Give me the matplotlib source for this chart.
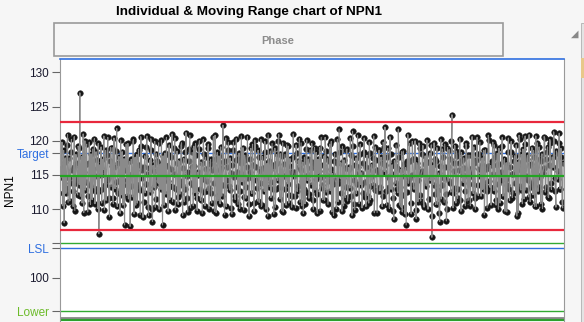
import numpy as np
import matplotlib.pyplot as plt
from matplotlib.patches import Rectangle

plt.rcParams['font.family'] = ['Liberation Sans', 'DejaVu Sans']

# individual measurements of NPN1 read off the chart; the run is stored as two
# halves (even and odd samples) that are interleaved below
npn1_even = [
    116.2, 119.8, 112.4, 108.0, 117.5, 113.1, 120.9, 114.6, 111.2, 118.3, 115.7, 110.4, 120.6, 113.9, 116.8,
    112.1, 118.9, 127.0, 114.3, 110.9, 121.0, 115.4, 112.8, 119.5, 109.6, 116.7, 113.5, 118.1, 111.4, 115.9,
    120.3, 112.6, 117.2, 110.1, 106.4, 116.5, 119.1, 113.0, 115.8, 109.9, 118.6, 114.2, 120.5, 111.7, 117.0,
    113.3, 119.0, 110.8, 116.1, 114.0, 121.8, 112.3, 117.7, 109.4, 115.1, 118.4, 113.6, 107.7, 116.9, 112.0,
    119.6, 114.9, 107.5, 117.3, 111.8, 120.2, 115.3, 110.6, 118.0, 113.2, 116.4, 109.2, 119.3, 114.5, 111.0,
    117.8, 113.7, 120.7, 110.3, 116.0, 112.5, 118.7, 108.2, 115.6, 119.9, 111.5, 117.1, 113.8, 110.0, 116.6,
    120.1, 107.7, 114.8, 118.2, 112.2, 116.3, 109.7, 119.4, 113.4, 117.6, 111.1, 115.2, 120.4, 112.9, 118.5,
    110.7, 116.9, 114.1, 119.7, 109.1, 117.4, 113.0, 121.2, 111.6, 115.5, 118.8, 110.2, 116.2, 113.6, 119.2,
    112.4, 117.9, 109.8, 115.0, 120.0, 111.3, 116.7, 114.4, 118.1, 110.5, 115.9, 112.7, 119.5, 113.1, 117.3,
    110.9, 116.4, 113.9, 120.8, 109.5, 118.3, 112.1, 115.7, 119.1, 111.9, 122.3, 113.5, 117.0, 110.4, 116.1,
    119.8, 112.8, 115.3, 109.3, 118.6, 114.7, 111.4, 120.3, 113.2, 117.5, 110.1, 116.8, 114.0, 119.0, 111.8,
    117.2, 113.3, 120.6, 110.8, 115.4, 118.9, 112.3, 116.5, 109.7, 119.3, 114.3, 111.2, 117.7, 113.8, 120.2,
    110.6, 116.0, 112.6, 118.4, 114.6, 109.0, 117.1, 115.8, 111.7, 119.6, 113.0, 116.3, 110.3, 118.0, 114.2,
    120.9, 111.5, 115.1, 117.8, 109.6, 116.6, 112.9, 119.4, 113.7, 110.9, 117.4, 115.5, 112.0, 121.0, 114.8,
    110.2, 118.2, 113.4, 116.2, 111.0, 119.7, 114.1, 109.4, 117.6, 112.5, 120.1, 115.0, 111.6, 118.7, 113.6,
    116.9, 110.0, 119.0, 114.4, 112.2, 117.3, 115.6, 109.8, 120.5, 113.1, 116.4, 111.3, 118.5, 114.9, 110.7,
    117.0, 112.7, 119.9, 115.2, 109.1, 118.1, 113.9, 116.7, 111.1, 121.7, 114.5, 112.4, 119.2, 110.5, 116.0,
    113.2, 118.8, 111.8, 115.9, 120.4, 112.0, 121.4, 114.2, 109.9, 117.5, 113.7, 116.1, 110.8, 119.5, 115.3,
    112.3, 118.3, 114.0, 110.4, 117.9, 115.7, 119.8, 111.4, 116.5, 113.5, 120.7, 112.8, 117.2, 109.5, 115.4,
    118.6, 113.3, 116.8, 111.9, 119.1, 122.0, 112.6, 117.7, 114.7, 110.1, 118.0, 115.1, 111.7, 108.5, 116.3,
    119.4, 113.0, 121.7, 110.6, 115.8, 118.4, 112.1, 116.6, 109.3, 107.7, 117.1, 113.8, 119.6, 110.9, 115.0,
    117.4, 112.9, 120.0, 108.6, 116.2, 114.3, 118.9, 111.2, 115.6, 119.3, 110.3, 117.8, 113.4, 116.9, 111.5,
    118.2, 114.6, 105.9, 116.4, 119.7, 112.2, 117.0, 110.7, 115.3, 108.2, 120.2, 113.6, 117.6, 111.0, 116.1,
    108.3, 119.0, 114.1, 117.3, 112.5, 123.8, 110.2, 116.8, 113.1, 118.5, 111.6, 115.7, 120.3, 109.7, 117.2,
    113.9, 116.0, 110.5, 119.2, 114.8, 111.3, 117.9, 115.4, 120.6, 112.3, 116.7, 110.0, 118.1, 113.5, 115.9,
    119.8, 111.9, 117.5, 114.0, 109.2, 118.7, 112.7, 116.3, 120.1, 113.2, 110.6, 117.0, 115.2, 119.4, 111.4,
    116.5, 113.7, 118.9, 110.9, 115.5, 120.5, 112.0, 117.4, 114.4, 109.6, 118.3, 113.0, 116.2, 119.9, 111.7,
    115.1, 117.8, 112.4, 109.0, 116.9, 120.8, 113.4, 118.0, 110.8, 115.8, 119.5, 112.8, 117.3, 114.2, 120.9,
    111.1, 116.6, 113.8, 118.6, 110.4, 120.7, 115.0, 112.6, 119.1, 114.7, 117.1, 110.1, 116.0, 120.4, 113.3,
    118.4, 111.8, 116.4, 119.7, 112.9, 117.6, 121.3, 114.5, 110.3, 118.2, 115.6, 121.1, 113.0, 117.7, 110.2,
]
npn1_odd = [
    114.7, 110.5, 118.6, 116.9, 112.3, 119.4, 111.0, 117.5, 113.8, 120.2, 112.6, 116.1, 109.8, 118.0, 114.4,
    119.2, 113.6, 111.9, 117.7, 115.3, 109.5, 120.0, 114.0, 116.6, 112.0, 119.8, 110.7, 115.5, 118.8, 113.1,
    110.8, 118.4, 114.9, 119.6, 112.7, 115.0, 110.9, 117.3, 120.7, 113.5, 111.3, 117.9, 114.6, 108.9, 119.0,
    116.3, 111.6, 120.4, 113.0, 118.5, 110.4, 116.8, 114.2, 120.1, 112.1, 110.6, 117.4, 115.8, 119.5, 114.3,
    111.5, 117.0, 113.4, 115.1, 119.9, 109.3, 117.6, 113.7, 110.9, 118.7, 112.8, 120.6, 115.7, 108.8, 116.2,
    112.4, 119.1, 115.2, 109.1, 117.2, 120.3, 110.0, 116.4, 113.2, 110.3, 118.1, 114.5, 119.7, 115.6, 112.9,
    113.9, 117.8, 110.6, 116.5, 120.5, 114.1, 117.9, 111.4, 115.9, 121.0, 113.3, 118.9, 109.9, 116.7, 111.8,
    117.1, 112.2, 119.3, 113.5, 116.0, 111.1, 118.4, 114.8, 109.6, 117.0, 120.8, 113.9, 118.3, 110.5, 116.3,
    119.6, 111.7, 115.4, 118.8, 113.0, 116.9, 109.4, 120.2, 112.5, 117.6, 114.1, 119.0, 110.1, 116.6, 112.3,
    115.8, 120.6, 109.7, 117.3, 114.6, 111.2, 117.8, 110.8, 116.0, 113.6, 116.9, 109.2, 120.4, 114.3, 118.7,
    113.4, 117.5, 110.2, 116.4, 119.8, 112.0, 117.2, 115.5, 110.7, 118.2, 112.7, 120.7, 115.1, 109.9, 117.9,
    111.6, 116.2, 114.5, 109.0, 117.4, 112.4, 119.5, 110.9, 120.1, 116.1, 113.1, 118.6, 111.0, 115.6, 110.4,
    117.7, 113.8, 119.9, 110.0, 116.7, 120.9, 113.3, 118.5, 114.0, 116.5, 109.3, 118.9, 112.9, 116.8, 120.0,
    113.2, 118.1, 109.8, 119.7, 114.9, 118.0, 110.6, 115.0, 119.2, 112.1, 116.3, 110.3, 117.6, 115.4, 111.9,
    119.4, 112.6, 117.1, 120.3, 115.7, 110.5, 116.9, 113.0, 110.8, 118.8, 114.2, 117.3, 112.2, 116.0, 119.6,
    111.3, 116.6, 112.8, 118.3, 109.4, 115.2, 119.0, 114.7, 113.5, 111.4, 117.8, 120.5, 112.5, 117.4, 114.1,
    119.5, 115.9, 109.6, 113.7, 117.0, 114.3, 110.1, 120.2, 113.9, 118.4, 116.8, 109.7, 114.6, 117.2, 111.7,
    118.7, 111.2, 116.1, 113.1, 117.9, 109.1, 119.3, 110.7, 116.4, 112.3, 120.8, 115.3, 118.0, 113.6, 110.2,
    116.7, 120.4, 111.8, 116.2, 112.0, 110.9, 118.2, 113.4, 114.8, 117.5, 109.5, 119.1, 115.8, 112.6, 118.6,
    112.7, 117.6, 110.4, 119.8, 115.5, 116.4, 110.6, 118.9, 113.2, 120.6, 112.9, 116.5, 109.8, 117.1, 113.8,
    116.0, 112.4, 117.7, 113.3, 110.3, 109.6, 118.5, 114.9, 116.1, 112.5, 120.9, 114.4, 117.0, 109.3, 119.9,
    113.5, 117.3, 109.9, 116.8, 111.1, 119.7, 112.1, 115.1, 118.1, 110.8, 116.6, 114.0, 120.1, 110.0, 116.9,
    114.2, 119.4, 109.0, 113.6, 117.4, 110.7, 119.0, 112.8, 109.4, 116.3, 111.5, 118.8, 114.5, 119.5, 112.2,
    110.1, 116.2, 118.7, 113.9, 120.0, 112.3, 115.6, 119.3, 110.9, 117.8, 113.0, 116.7, 111.4, 118.3, 115.0,
    117.5, 112.6, 119.6, 111.2, 117.9, 114.7, 110.5, 116.0, 113.7, 119.1, 111.6, 117.2, 120.5, 112.0, 118.0,
    114.8, 116.5, 112.9, 118.6, 113.4, 115.9, 110.2, 120.8, 114.1, 116.4, 113.1, 119.8, 112.7, 117.6, 110.6,
    118.2, 110.0, 116.6, 114.3, 119.2, 111.9, 117.1, 109.7, 116.8, 113.5, 120.4, 111.3, 118.4, 115.2, 112.4,
    117.0, 113.8, 119.4, 115.7, 109.5, 120.3, 112.8, 116.2, 118.8, 111.5, 120.7, 114.9, 117.9, 111.8, 116.5,
    113.2, 119.0, 112.1, 117.7, 114.6, 110.4, 119.7, 113.3, 117.4, 110.8, 118.1, 115.3, 120.6, 112.5, 117.3,
    119.1, 111.7, 120.2, 113.9, 117.6, 116.1, 120.0, 112.6, 118.5, 114.4, 119.6, 113.0, 118.9, 111.0, 116.8,
]
npn1 = [v for pair in zip(npn1_even, npn1_odd) for v in pair]

# control limits and spec/reference lines
ucl, center, lcl = 122.8, 114.9, 107.0
target, lsl, lower = 118.2, 104.3, 95.1

ytick_vals = [130, 125, 120, target, 115, 110, 105, lsl, 100, lower]
ytick_labels = ['130', '125', '120', 'Target', '115', '110', '', 'LSL', '100', 'Lower']

W, H = 584, 322
fig = plt.figure(figsize=(W / 100, H / 100), dpi=100, facecolor='#f6f6f6')

# plot area in pixel terms
left, right, top, bottom = 60, 564, 59, 322
ax = fig.add_axes([left / W, 1 - bottom / H, (right - left) / W, (bottom - top) / H])
ax.set_facecolor('white')

x = np.arange(len(npn1))
ax.set_xlim(-1.5, len(npn1) + 0.5)
ax.set_ylim(93.53, 131.94)

# reference lines behind the data
ax.axhline(target, color='#2f6fe0', lw=1.0, zorder=1)
ax.axhline(105.0, color='#33aa33', lw=1.0, zorder=1)
ax.axhline(lsl, color='#2f6fe0', lw=1.0, zorder=1)
ax.axhline(lower, color='#33aa33', lw=1.0, zorder=1)
ax.axhline(94.1, color='#888888', lw=2.0, zorder=1)
ax.axhline(93.75, color='#2ca02c', lw=1.5, zorder=1)

ax.plot(x, npn1, ls='none', marker='o', ms=4.0, mfc='#151515', mec='#2a2a2a', mew=0.4, zorder=2)
ax.plot(x, npn1, color='#8a8a8a', lw=0.8, zorder=3)

# control limits on top
ax.axhline(ucl, color='#e8283c', lw=1.6, zorder=4)
ax.axhline(lcl, color='#e8283c', lw=1.6, zorder=4)
ax.axhline(center, color='#22a522', lw=1.6, zorder=4)

ax.set_xticks([])
ax.set_yticks(ytick_vals)
ax.set_yticklabels(ytick_labels, fontsize=8.5)
ax.tick_params(axis='y', length=6, width=0.8, color='#666666', pad=2)
label_colors = ['#1a1a2e'] * len(ytick_vals)
label_colors[3] = '#2f6fe0'
label_colors[7] = '#2f6fe0'
label_colors[9] = '#6cbb2a'
tick_colors = ['#666666'] * len(ytick_vals)
tick_colors[3] = '#2f6fe0'
tick_colors[6] = '#33aa33'
tick_colors[7] = '#2f6fe0'
tick_colors[9] = '#33aa33'
for t, lc, tc in zip(ax.yaxis.get_major_ticks(), label_colors, tick_colors):
    t.label1.set_color(lc)
    t.tick1line.set_color(tc)

for s in ['left', 'right', 'bottom']:
    ax.spines[s].set_color('#999999')
ax.spines['top'].set_color('#2f6fe0')
ax.spines['top'].set_linewidth(1.2)

ax.set_ylabel('NPN1', fontsize=8.5)
ax.yaxis.set_label_coords(-44 / (right - left), 0.5)

# title and phase header
fig.text(249 / W, 1 - 12 / H, 'Individual & Moving Range chart of NPN1',
         ha='center', va='center', fontsize=9.7, fontweight='bold')
fig.patches.append(Rectangle((54 / W, 1 - 56 / H), (503 - 54) / W, 33 / H,
                             transform=fig.transFigure, facecolor='#f6f6f6',
                             edgecolor='#9a9a9a', lw=1.2))
fig.text(278 / W, 1 - 41 / H, 'Phase', ha='center', va='center',
         fontsize=8, fontweight='bold', color='#8c8c8c')
fig.text(575 / W, 1 - 34 / H, '\u25e2', ha='center', va='center', fontsize=7, color='#888888',
         family='DejaVu Sans')
fig.patches.append(Rectangle((581 / W, 0), 3 / W, 1 - 23 / H, transform=fig.transFigure,
                             facecolor='#e4e4e4', edgecolor='#b0b0b0', lw=0.6))
fig.patches.append(Rectangle((581 / W, 1 - 78 / H), 3 / W, 20 / H, transform=fig.transFigure,
                             facecolor='#e8c88a', edgecolor='none'))

fig.savefig('out.png', dpi=100, facecolor=fig.get_facecolor())
